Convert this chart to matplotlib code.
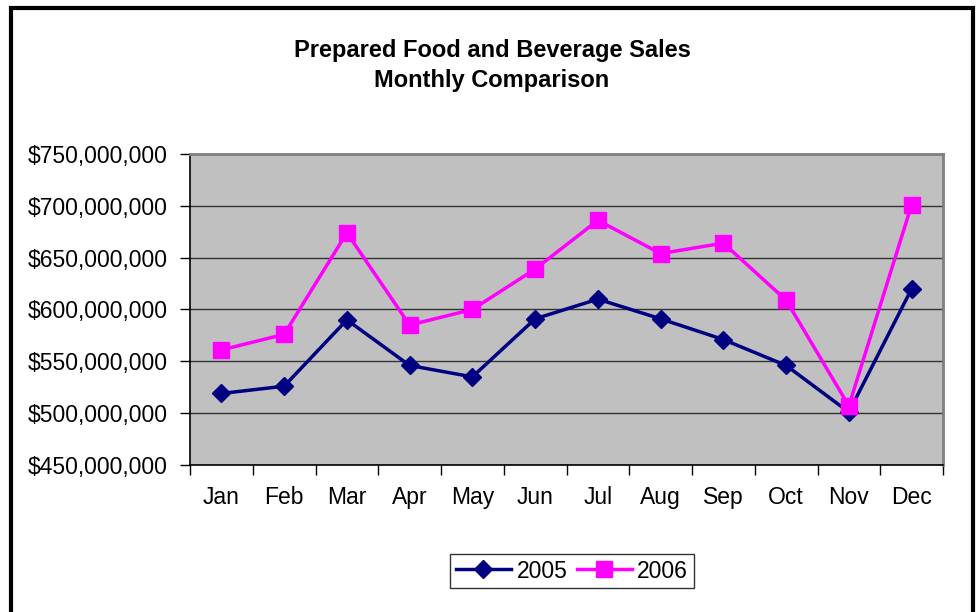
import matplotlib.pyplot as plt
from matplotlib.ticker import FuncFormatter, FixedLocator
from matplotlib.patches import Rectangle

plt.rcParams["font.family"] = ["Liberation Sans", "DejaVu Sans"]

months = ["Jan", "Feb", "Mar", "Apr", "May", "Jun",
          "Jul", "Aug", "Sep", "Oct", "Nov", "Dec"]
sales_2005 = [519e6, 526e6, 590e6, 546e6, 535e6, 591e6,
              610e6, 591e6, 571e6, 546e6, 501e6, 620e6]
sales_2006 = [561e6, 576e6, 674e6, 585e6, 600e6, 639e6,
              686e6, 654e6, 664e6, 609e6, 507e6, 701e6]

fig = plt.figure(figsize=(9.8, 6.12), dpi=100)
ax = fig.add_axes([190 / 980, 1 - 465 / 612, 753 / 980, 311 / 612])

x = list(range(len(months)))
ax.plot(x, sales_2005, color="#000080", lw=2.5, marker="D", ms=9.5,
        label="2005", zorder=3)
ax.plot(x, sales_2006, color="#FF00FF", lw=2.5, marker="s", ms=11.5,
        label="2006", zorder=4)

ax.set_facecolor("#C0C0C0")
ax.set_xlim(-0.5, len(months) - 0.5)
ax.set_ylim(450e6, 750e6)
ax.set_yticks([450e6 + 50e6 * i for i in range(7)])
ax.yaxis.set_major_formatter(FuncFormatter(lambda v, p: f"${v:,.0f}"))
ax.grid(axis="y", color="#333333", lw=1)
ax.set_axisbelow(True)

# month labels centred, tick marks on category boundaries
ax.set_xticks(x)
ax.set_xticklabels(months)
ax.tick_params(axis="x", which="major", length=0, pad=15, labelsize=16.5)
ax.xaxis.set_minor_locator(FixedLocator([i - 0.5 for i in range(len(months) + 1)]))
ax.tick_params(axis="x", which="minor", length=7, width=1, color="black")
ax.tick_params(axis="y", length=7, width=1, pad=9, labelsize=16.5)

for side in ["top", "right"]:
    ax.spines[side].set_color("#808080")
    ax.spines[side].set_linewidth(2)
for side in ["left", "bottom"]:
    ax.spines[side].set_color("black")
    ax.spines[side].set_linewidth(1.2)

fig.text(0.502, 1 - 50 / 612, "Prepared Food and Beverage Sales",
         ha="center", va="center", fontsize=17, fontweight="bold")
fig.text(0.502, 1 - 81 / 612, "Monthly Comparison",
         ha="center", va="center", fontsize=17, fontweight="bold")

leg = fig.legend(loc="center", bbox_to_anchor=(572 / 980, 1 - 571 / 612),
                 ncol=2, fontsize=16.5, frameon=True, fancybox=False,
                 handlelength=2.4, handletextpad=0.25, columnspacing=0.4,
                 borderpad=0.25, borderaxespad=0)
leg.get_frame().set_edgecolor("black")
leg.get_frame().set_linewidth(1)

# chart border
fig.patches.append(Rectangle((11 / 980, -0.05), 962 / 980, 1 - 8 / 612 + 0.05,
                             transform=fig.transFigure, fill=False,
                             edgecolor="black", lw=3))

fig.savefig("out.png", dpi=100)
